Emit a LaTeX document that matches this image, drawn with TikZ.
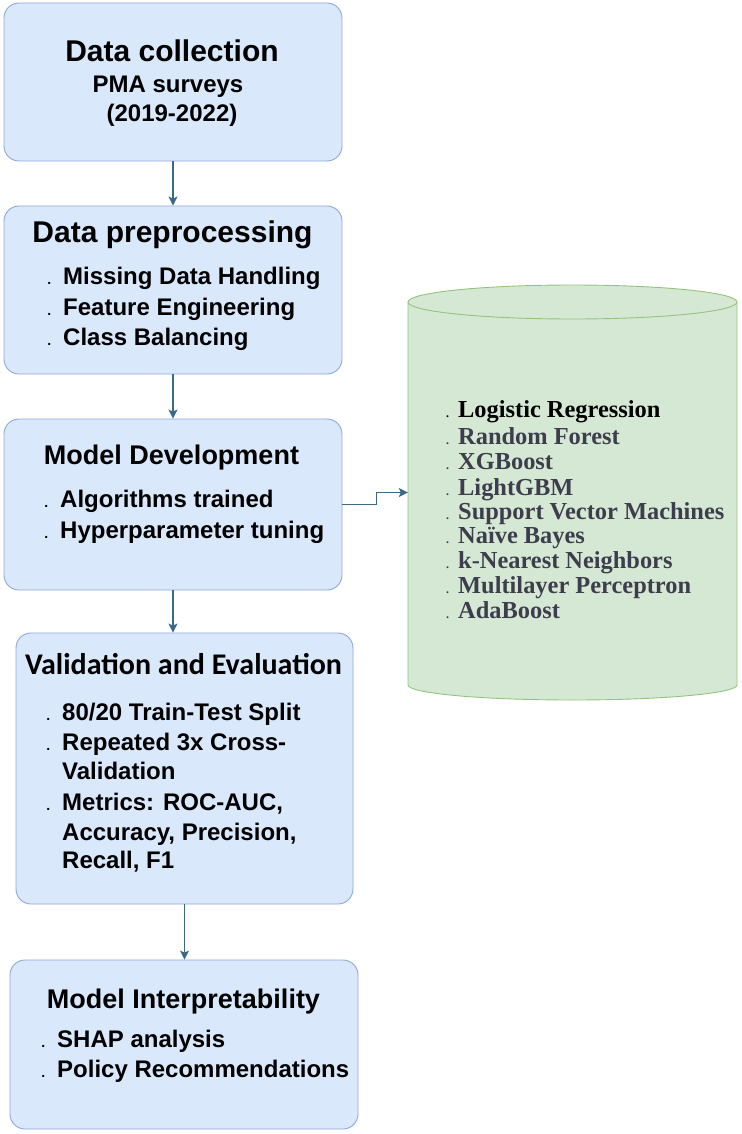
\documentclass[tikz,border=0pt]{standalone}
\usepackage{fontspec}
\usetikzlibrary{arrows.meta, positioning, calc}
\newfontfamily\boxfont{Liberation Sans}
\newfontfamily\evalfont{Carlito}
\newfontfamily\algofont{Liberation Serif}
\definecolor{boxfill}{HTML}{DAE8FC}
\definecolor{boxedge}{HTML}{8BA8D8}
\definecolor{algofill}{HTML}{D5E8D4}
\definecolor{algoedge}{HTML}{93C47D}
\definecolor{arrowteal}{HTML}{3B6A86}
\definecolor{algogray}{HTML}{3D3D4D}
\newcommand{\itemdot}{\llap{\fontsize{14}{14}\selectfont.\hspace{12pt}}}
\newcommand{\algodot}{\llap{\fontsize{12}{12}\selectfont.\hspace{9pt}}}
\tikzset{
    stepbox/.style={rectangle, rounded corners=15pt, draw=boxedge, fill=boxfill, line width=0.9pt},
    headtxt/.style={inner sep=0pt, anchor=base, font=\boxfont\bfseries\fontsize{#1}{#1}\selectfont},
    itemtxt/.style={inner sep=0pt, anchor=base west, font=\boxfont\bfseries\fontsize{24}{24}\selectfont},
    algotxt/.style={inner sep=0pt, anchor=base west, font=\algofont\bfseries\fontsize{24.4}{24.4}\selectfont, text=algogray},
    arrow/.style={-{Stealth[length=9pt, width=9pt, inset=2pt]}, line width=1.2pt, draw=arrowteal}
}
\begin{document}
\begin{tikzpicture}[x=1pt, y=-1pt]
    \useasboundingbox (0,0) rectangle (741,1134);
    % steps of the pipeline
    \node[stepbox, minimum width=338pt, minimum height=158pt] (collect) at (173,82) {};
    \node[stepbox, minimum width=338pt, minimum height=168pt] (prep) at (173,290) {};
    \node[stepbox, minimum width=338pt, minimum height=171pt] (dev) at (173,504.5) {};
    \node[stepbox, minimum width=337pt, minimum height=271pt] (valid) at (184.5,768.5) {};
    \node[stepbox, minimum width=348pt, minimum height=169pt] (interp) at (184,1044.5) {};

    % algorithm store
    \node[minimum width=329pt, minimum height=415pt, inner sep=0pt] (algos) at (572.5,492.5) {};
    \path[fill=algofill, draw=algoedge, line width=0.9pt] (408,302) -- (408,685)
        arc[start angle=180, end angle=0, x radius=164.5, y radius=15] -- (737,302)
        arc[start angle=0, end angle=-180, x radius=164.5, y radius=17] -- cycle;
    \draw[algoedge, line width=0.9pt] (408,302) arc[start angle=180, end angle=0, x radius=164.5, y radius=17];

    \node[headtxt=30] (collect-title) at (172,62) {Data collection};
    \node[headtxt=24] (collect-src) at (168,93) {PMA surveys};
    \node[headtxt=24] (collect-yrs) at (172,122) {(2019-2022)};

    \node[headtxt=30] (prep-title) at (172.5,242) {Data preprocessing};
    \foreach \txt/\yy [count=\i] in {Missing Data Handling/284, Feature Engineering/315, Class Balancing/345}
        \node[itemtxt] (prep-\i) at (63,\yy) {\itemdot\txt};

    \node[headtxt=27] (dev-title) at (171.5,464) {Model Development};
    \foreach \txt/\yy [count=\i] in {Algorithms trained/507, Hyperparameter tuning/538}
        \node[itemtxt] (dev-\i) at (60,\yy) {\itemdot\txt};

    \node[inner sep=0pt, anchor=base, font=\evalfont\bfseries\fontsize{30}{30}\selectfont] (valid-title) at (183.5,674) {Validation and Evaluation};
    \foreach \txt/\yy [count=\i] in {{\itemdot 80/20 Train-Test Split}/720, {\itemdot Repeated 3x Cross-}/750, {Validation}/779,
            {\itemdot Metrics: ROC-AUC,}/810, {Accuracy, Precision,}/840, {Recall, F1}/868}
        \node[itemtxt] (valid-\i) at (62,\yy) {\txt};

    \node[headtxt=27] (interp-title) at (183.5,1008) {Model Interpretability};
    \foreach \txt/\yy [count=\i] in {SHAP analysis/1047, Policy Recommendations/1077}
        \node[itemtxt] (interp-\i) at (57,\yy) {\itemdot\txt};

    \node[algotxt, text=black] (algo-0) at (458,417) {\algodot Logistic Regression};
    \foreach \txt/\yy [count=\i] in {Random Forest/444, XGBoost/469, LightGBM/495, Support Vector Machines/519,
            Naïve Bayes/543, k-Nearest Neighbors/568, Multilayer Perceptron/593, AdaBoost/618}
        \node[algotxt] (algo-\i) at (458,\yy) {\algodot\txt};

    % connectors
    \draw[arrow] (collect) -- (prep);
    \draw[arrow] (prep) -- (dev);
    \draw[arrow] (dev.south) -- (dev.south |- valid.north);
    \draw[arrow] (valid.south) -- (valid.south |- interp.north);
    \draw[arrow] (dev.east) -- ++(34,0) |- (algos.west);
\end{tikzpicture}
\end{document}
